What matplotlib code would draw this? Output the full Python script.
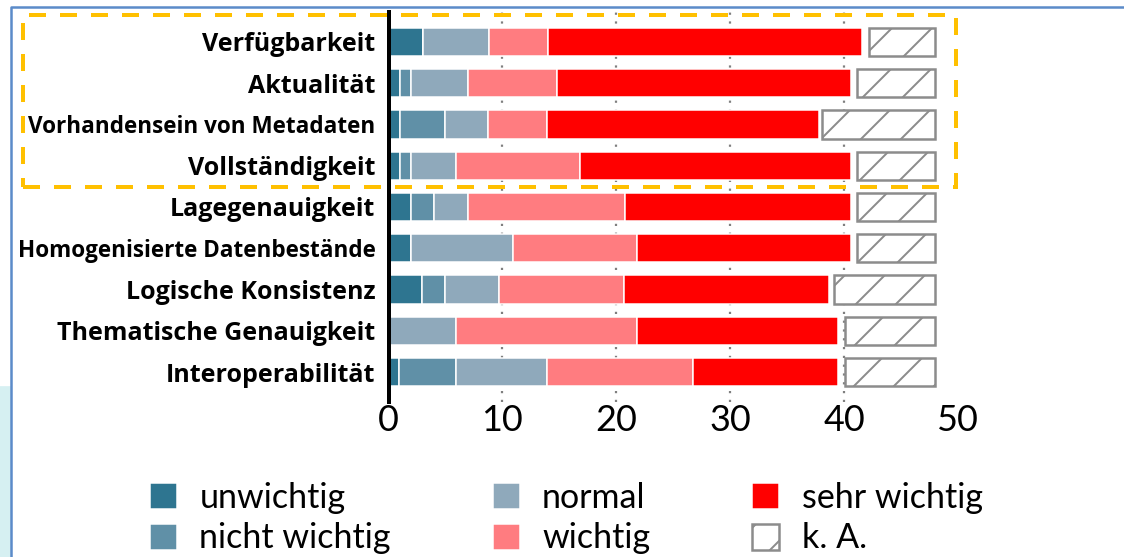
import numpy as np
import matplotlib
matplotlib.use('Agg')
import matplotlib.pyplot as plt
from matplotlib.patches import Rectangle
from matplotlib.lines import Line2D

# data (counts per answer)
kategorien = ['Verfügbarkeit', 'Aktualität', 'Vorhandensein von Metadaten',
              'Vollständigkeit', 'Lagegenauigkeit', 'Homogenisierte Datenbestände',
              'Logische Konsistenz', 'Thematische Genauigkeit', 'Interoperabilität']
unwichtig = [3, 1, 1, 1, 2, 2, 2.9, 0, 0.9]
nicht_wichtig = [0, 1, 4, 1, 2, 0, 2.1, 0, 5]
normal = [5.8, 5, 3.7, 3.9, 3, 8.9, 4.7, 5.9, 8]
wichtig = [5.2, 7.8, 5.2, 10.9, 13.8, 10.9, 11, 15.9, 12.8]
sehr_wichtig = [27.6, 25.8, 23.9, 23.8, 19.8, 18.8, 18, 17.7, 12.8]
keine_angabe = [5.8, 6.9, 9.9, 6.9, 6.9, 6.9, 8.9, 7.9, 7.9]
gesamt = 48
xticks = [0, 10, 20, 30, 40, 50]

serien = [unwichtig, nicht_wichtig, normal, wichtig, sehr_wichtig]
namen = ['unwichtig', 'nicht wichtig', 'normal', 'wichtig', 'sehr wichtig']
farben = ['#2E7590', '#6090A7', '#8FA9BB', '#FF7C80', '#FF0000']

# dpi picked so the hatch spacing matches the reference
DPI = 120
W, H = 1124, 557


def px(v):
    # pixel -> points
    return v * 72.0 / DPI


plt.rcParams['font.family'] = ['Lato', 'DejaVu Sans']
plt.rcParams['hatch.linewidth'] = px(2)

fig = plt.figure(figsize=(W / DPI, H / DPI), dpi=DPI)
ax = fig.add_axes([388.5 / W, 1 - 402 / H, (958 - 388.5) / W, (402 - 12) / H])

y = np.arange(len(kategorien))
links = np.zeros(len(kategorien))
for werte, name, farbe in zip(serien, namen, farben):
    ax.barh(y, werte, left=links, height=0.69, color=farbe, edgecolor='white',
            linewidth=px(1.5), label=name, zorder=2)
    links += np.array(werte)

ka = np.array(keine_angabe)
ax.barh(y, ka, left=gesamt - ka, height=0.69, color='white', edgecolor='#8C8C8C',
        linewidth=px(2.5), hatch='/', label='k. A.', zorder=2)

ax.set_xlim(0, 50)
ax.set_ylim(len(kategorien) - 1 + 0.727, -0.727)
ax.set_yticks(y)
ax.set_yticklabels(kategorien, fontsize=px(25), fontweight='bold',
                   family=['Open Sans', 'DejaVu Sans'])
# the two long labels are squeezed in the original
for t in ax.get_yticklabels():
    if len(t.get_text()) > 25:
        t.set_fontsize(px(22.5))
ax.set_xticks(xticks)
ax.set_xticklabels([str(t) for t in xticks], fontsize=px(36))
ax.tick_params(axis='y', length=0, pad=px(13))
ax.tick_params(axis='x', length=0, pad=px(2))

for s in ['top', 'right', 'bottom']:
    ax.spines[s].set_visible(False)
ax.spines['left'].set_linewidth(px(4))
ax.spines['left'].set_color('black')
ax.spines['left'].set_zorder(3)

ax.grid(axis='x', linestyle=(0, (1, 3)), color='#7F7F7F', linewidth=px(2.2))
ax.set_axisbelow(True)
ax.xaxis.get_gridlines()[-1].set_visible(False)

h, l = ax.get_legend_handles_labels()
fig.legend(h, l, ncol=3, loc='upper left', bbox_to_anchor=(150 / W, 1 - 482 / H),
           frameon=False, fontsize=px(34), handlelength=0.8, handleheight=0.8,
           handletextpad=0.65, columnspacing=3.0, labelspacing=0.25,
           borderpad=0, borderaxespad=0)

# orange dashed highlight box around the first four rows
fig.add_artist(Rectangle((23 / W, 1 - 187 / H), (956 - 23) / W, (187 - 15) / H,
                         transform=fig.transFigure, fill=False, edgecolor='#FFC000',
                         linewidth=px(4), linestyle=(0, (4.25, 3.5)), zorder=5))
# slide frame and background strip
fig.add_artist(Rectangle((0, 0), 10 / W, 170 / H, transform=fig.transFigure,
                         color='#D6F0F2', zorder=0))
fig.add_artist(Line2D([11 / W, 11 / W, 1], [0, 1 - 6.5 / H, 1 - 6.5 / H],
                      transform=fig.transFigure, color='#5B8BC9',
                      linewidth=px(2.5), zorder=5))

fig.savefig('out.png', dpi=DPI)
